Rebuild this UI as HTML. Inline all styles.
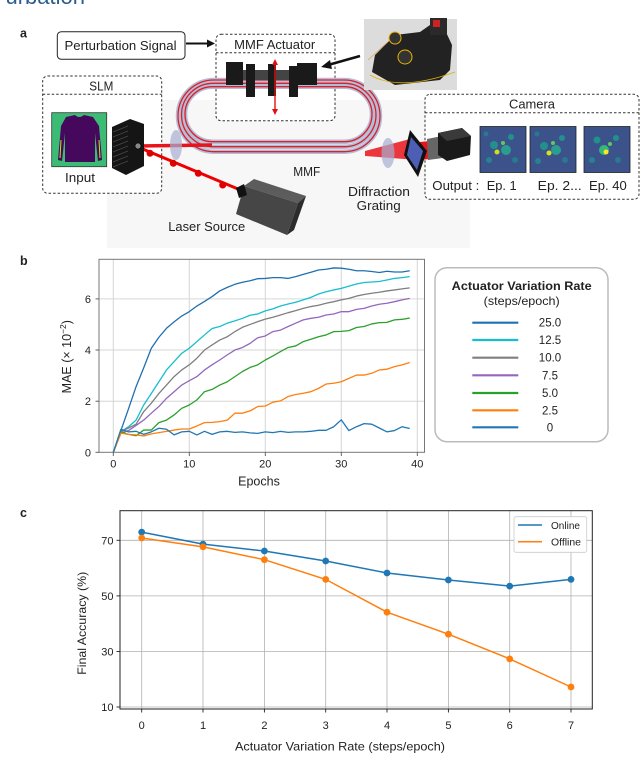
<!DOCTYPE html>
<html><head><meta charset="utf-8"><style>
html,body{margin:0;padding:0;background:#fff;}
svg{display:block;}
text{font-family:"Liberation Sans","DejaVu Sans",sans-serif;fill:#222;}
</style></head><body>
<svg width="640" height="758" viewBox="0 0 640 758" xmlns="http://www.w3.org/2000/svg">
<rect width="640" height="758" fill="#fff"/>

<!-- ============ PANEL A ============ -->
<text x="85" y="4" font-size="22" text-anchor="end" style="fill:#2b5d8f">urbation</text>
<text x="20" y="37.5" font-size="12.5" font-weight="bold">a</text>

<rect x="107" y="100" width="363" height="148" fill="#f7f7f7"/>

<!-- Perturbation signal box -->
<rect x="57.3" y="31.7" width="127.7" height="27.6" rx="4" fill="#fff" stroke="#222" stroke-width="1"/>
<text x="120.5" y="50" font-size="13" text-anchor="middle" textLength="112" lengthAdjust="spacingAndGlyphs">Perturbation Signal</text>
<line x1="186" y1="43.5" x2="208" y2="43.5" stroke="#111" stroke-width="2"/>
<polygon points="215,43.5 207,39.5 207,47.5" fill="#111"/>

<!-- SLM box -->
<rect x="42.7" y="76" width="119" height="117.3" rx="5" fill="#fff" stroke="#333" stroke-width="1" stroke-dasharray="2.5,2"/>
<line x1="42.7" y1="94.3" x2="161.7" y2="94.3" stroke="#333" stroke-width="1" stroke-dasharray="2.5,2"/>
<text x="101.3" y="90.5" font-size="13" text-anchor="middle" textLength="24" lengthAdjust="spacingAndGlyphs">SLM</text>

<!-- input image -->
<rect x="51.7" y="112.7" width="55" height="54" fill="#3cbb75" stroke="#333" stroke-width="0.8"/>
<path d="M66 117 L75 115 Q79 119 84 115 L93 117 L99 126 L102 160 L98 161 L95 133 L95 162 L65 162 L65 133 L62 161 L58 160 L61 126 Z" fill="#46085c"/>
<line x1="61" y1="140" x2="60" y2="158" stroke="#c8e020" stroke-width="1"/>
<line x1="99" y1="140" x2="100" y2="158" stroke="#c8e020" stroke-width="1"/>
<text x="80" y="182" font-size="13" text-anchor="middle" textLength="30" lengthAdjust="spacingAndGlyphs">Input</text>

<!-- MMF Actuator box -->
<rect x="216" y="34.3" width="119" height="86.4" rx="5" fill="#fff" stroke="#333" stroke-width="1" stroke-dasharray="2.5,2"/>
<line x1="216" y1="52.7" x2="335" y2="52.7" stroke="#333" stroke-width="1" stroke-dasharray="2.5,2"/>
<text x="274.7" y="48.8" font-size="13" text-anchor="middle" textLength="81" lengthAdjust="spacingAndGlyphs">MMF Actuator</text>

<!-- Camera box -->
<rect x="425" y="94.3" width="214" height="105" rx="5" fill="#fff" stroke="#333" stroke-width="1" stroke-dasharray="2.5,2"/>
<line x1="425" y1="112.7" x2="639" y2="112.7" stroke="#333" stroke-width="1" stroke-dasharray="2.5,2"/>
<text x="532" y="108.5" font-size="13" text-anchor="middle" textLength="46" lengthAdjust="spacingAndGlyphs">Camera</text>

<!-- fibre loops -->
<g fill="none">
<path d="M213.85 80 H344.15 A35.85 35.85 0 0 1 344.15 151.7 H213.85 A35.85 35.85 0 0 1 213.85 80 Z" stroke="#b4bcd8" stroke-width="4.5"/>
<path d="M213.2 83.3 H344.3 A31.7 31.7 0 0 1 344.3 146.7 H213.2 A31.7 31.7 0 0 1 213.2 83.3 Z" stroke="#b4bcd8" stroke-width="4.5"/>
<path d="M212.5 86.7 H344.5 A27.5 27.5 0 0 1 344.5 141.7 H212.5 A27.5 27.5 0 0 1 212.5 86.7 Z" stroke="#b4bcd8" stroke-width="4.5"/>
<path d="M213.85 80 H344.15 A35.85 35.85 0 0 1 344.15 151.7 H213.85 A35.85 35.85 0 0 1 213.85 80 Z" stroke="#d9212a" stroke-width="1.3"/>
<path d="M213.2 83.3 H344.3 A31.7 31.7 0 0 1 344.3 146.7 H213.2 A31.7 31.7 0 0 1 213.2 83.3 Z" stroke="#d9212a" stroke-width="1.3"/>
<path d="M212.5 86.7 H344.5 A27.5 27.5 0 0 1 344.5 141.7 H212.5 A27.5 27.5 0 0 1 212.5 86.7 Z" stroke="#d9212a" stroke-width="1.3"/>
</g>

<!-- actuator -->
<rect x="235" y="70" width="70" height="10" fill="#444"/>
<rect x="226" y="62" width="17" height="23" fill="#1a1a1a"/>
<rect x="246" y="64" width="9" height="33" fill="#1a1a1a"/>
<rect x="268" y="64" width="8" height="32" fill="#1a1a1a"/>
<rect x="289" y="66" width="9" height="31" fill="#1a1a1a"/>
<rect x="297" y="63" width="20" height="22" fill="#1a1a1a"/>
<line x1="275" y1="64" x2="275" y2="110" stroke="#e01010" stroke-width="1.4"/>
<polygon points="275,59 272,65 278,65" fill="#e01010"/>
<polygon points="275,115 272,109 278,109" fill="#e01010"/>

<!-- photo -->
<rect x="364" y="19" width="93" height="71" fill="#dcdcdc"/>
<polygon points="375,55 395,35 420,32 430,25 445,30 452,45 450,70 440,80 395,85 372,72" fill="#222"/>
<rect x="430" y="18" width="17" height="17" fill="#2a2a2a"/>
<rect x="433" y="20" width="7" height="7" fill="#c22"/>
<circle cx="395" cy="38" r="6" fill="#333" stroke="#e8b400" stroke-width="1"/>
<circle cx="405" cy="57" r="7" fill="#333" stroke="#e8b400" stroke-width="1"/>
<path d="M370 75 Q400 92 455 72" fill="none" stroke="#e0b000" stroke-width="0.8"/>
<line x1="368" y1="60" x2="390" y2="40" stroke="#e89a40" stroke-width="0.6"/>
<line x1="360" y1="56" x2="328" y2="65" stroke="#111" stroke-width="2.5"/>
<polygon points="321,67 330,60 332,69" fill="#111"/>

<!-- beams -->
<line x1="138" y1="146" x2="212" y2="145" stroke="#e8141c" stroke-width="3.5"/>
<line x1="138" y1="147" x2="238" y2="189" stroke="#e00" stroke-width="3"/>
<circle cx="150" cy="153.3" r="3.5" fill="#d00"/>
<circle cx="173.3" cy="163.3" r="3.5" fill="#d00"/>
<circle cx="198.3" cy="173.3" r="3.5" fill="#d00"/>
<circle cx="222.7" cy="185" r="3.5" fill="#d00"/>
<polygon points="365,151 410,139 418,160 365,156" fill="#e8141c" opacity="0.85"/>
<polygon points="420,142 440,140 440,158 420,160" fill="#e8141c"/>

<!-- lenses -->
<ellipse cx="176" cy="145" rx="6" ry="15" fill="#a6add0" opacity="0.7"/>
<ellipse cx="388" cy="153" rx="6.5" ry="15" fill="#a6add0" opacity="0.7"/>

<!-- SLM cube -->
<polygon points="112,127 130,119 144,124 144,166 126,175 112,168" fill="#151515"/>
<g stroke="#4a4a4a" stroke-width="0.7">
<line x1="113" y1="132" x2="128" y2="126"/><line x1="113" y1="137" x2="128" y2="131"/>
<line x1="113" y1="142" x2="128" y2="136"/><line x1="113" y1="147" x2="128" y2="141"/>
<line x1="113" y1="152" x2="128" y2="146"/><line x1="113" y1="157" x2="128" y2="151"/>
<line x1="113" y1="162" x2="128" y2="156"/><line x1="113" y1="167" x2="128" y2="161"/>
</g>
<circle cx="138" cy="146" r="3" fill="#888" stroke="#000" stroke-width="0.6"/>

<!-- laser -->
<polygon points="244,186 254,179 306,196 298,203" fill="#5c5c5c"/>
<polygon points="244,186 298,203 287,235 236,214" fill="#464646"/>
<polygon points="298,203 306,196 294,230 287,235" fill="#2c2c2c"/>
<polygon points="236,188 244,184 247,195 239,198" fill="#111"/>
<text x="206.7" y="231" font-size="13" text-anchor="middle" textLength="77" lengthAdjust="spacingAndGlyphs">Laser Source</text>
<text x="306.7" y="176" font-size="13" text-anchor="middle" textLength="27" lengthAdjust="spacingAndGlyphs">MMF</text>

<!-- grating -->
<polygon points="410,130 427,151 418,177 404,155" fill="#111"/>
<polygon points="411,137 423,151 417,170 407,155" fill="#4d5fb5"/>
<text x="379" y="196" font-size="13" text-anchor="middle" textLength="62" lengthAdjust="spacingAndGlyphs">Diffraction</text>
<text x="378.7" y="210" font-size="13" text-anchor="middle" textLength="44" lengthAdjust="spacingAndGlyphs">Grating</text>

<!-- camera -->
<polygon points="427,139 442,136 443,158 428,160" fill="#666"/>
<polygon points="438,133 462,128 471,136 470,155 447,161 438,155" fill="#1a1a1a"/>
<polygon points="438,133 462,128 471,136 447,141" fill="#3a3a3a"/>

<!-- outputs -->
<g>
<rect x="480" y="126.5" width="46" height="46" fill="#3b528b" stroke="#222" stroke-width="0.8"/>
<circle cx="494" cy="145" r="4" fill="#21918c"/><circle cx="506" cy="150" r="5" fill="#2a9d8f"/>
<circle cx="497" cy="152" r="2.5" fill="#c8e020"/><circle cx="511" cy="137" r="3" fill="#21918c"/>
<circle cx="489" cy="160" r="3" fill="#26828e"/><circle cx="515" cy="160" r="3" fill="#2a788e"/>
<circle cx="503" cy="143" r="2" fill="#5ec962"/><circle cx="486" cy="134" r="2.5" fill="#2a788e"/>
</g>
<g>
<rect x="530" y="126.5" width="46" height="46" fill="#3b528b" stroke="#222" stroke-width="0.8"/>
<circle cx="544" cy="146" r="4" fill="#21918c"/><circle cx="556" cy="150" r="5" fill="#2a9d8f"/>
<circle cx="549" cy="153" r="2.5" fill="#d8e219"/><circle cx="562" cy="138" r="3" fill="#21918c"/>
<circle cx="538" cy="161" r="3" fill="#26828e"/><circle cx="565" cy="160" r="3" fill="#2a788e"/>
<circle cx="553" cy="143" r="2" fill="#5ec962"/><circle cx="537" cy="134" r="2.5" fill="#2a788e"/>
</g>
<g>
<rect x="584" y="126.5" width="46" height="46" fill="#3b528b" stroke="#222" stroke-width="0.8"/>
<circle cx="604" cy="150" r="5" fill="#35b779"/><circle cx="606" cy="152" r="2.5" fill="#fde725"/>
<circle cx="597" cy="140" r="3.5" fill="#21918c"/><circle cx="616" cy="138" r="3" fill="#21918c"/>
<circle cx="592" cy="160" r="3" fill="#26828e"/><circle cx="618" cy="160" r="3" fill="#2a788e"/>
<circle cx="610" cy="144" r="2" fill="#5ec962"/>
</g>
<text x="432.3" y="190" font-size="13" textLength="47" lengthAdjust="spacingAndGlyphs">Output :</text>
<text x="486.7" y="190" font-size="13" textLength="30" lengthAdjust="spacingAndGlyphs">Ep. 1</text>
<text x="537.7" y="190" font-size="13" textLength="44" lengthAdjust="spacingAndGlyphs">Ep. 2...</text>
<text x="589" y="190" font-size="13" textLength="37.7" lengthAdjust="spacingAndGlyphs">Ep. 40</text>

<!-- ============ PANEL B ============ -->
<text x="20" y="265" font-size="12.5" font-weight="bold">b</text>
<g stroke="#d6d6d6" stroke-width="1">
<line x1="113.3" y1="259.3" x2="113.3" y2="452.3"/>
<line x1="189.3" y1="259.3" x2="189.3" y2="452.3"/>
<line x1="265.3" y1="259.3" x2="265.3" y2="452.3"/>
<line x1="341.3" y1="259.3" x2="341.3" y2="452.3"/>
<line x1="417.3" y1="259.3" x2="417.3" y2="452.3"/>
<line x1="99" y1="401.2" x2="424.5" y2="401.2"/>
<line x1="99" y1="350" x2="424.5" y2="350"/>
<line x1="99" y1="298.9" x2="424.5" y2="298.9"/>
</g>
<g transform="translate(113.3,452.3) scale(7.6,-25.57)" fill="none" stroke-width="1.3" stroke-linejoin="round">
<polyline vector-effect="non-scaling-stroke" stroke="#1f70b0" points="0,0 1,0.85 2,1.7 3,2.57 4,3.3 5,4.07 6,4.5 7,4.85 8,5.1 9,5.33 10,5.5 11,5.72 12,5.9 13,6.09 14,6.31 15,6.45 16,6.57 17,6.65 18,6.71 19,6.79 20,6.8 21,6.83 22,6.83 23,6.8 24,6.87 25,6.96 26,7.04 27,7.13 28,7.16 29,7.21 30,7.2 31,7.16 32,7.1 33,7.1 34,7.07 35,7.03 36,7.08 37,7.05 38,7.05 39,7.1"/>
<polyline vector-effect="non-scaling-stroke" stroke="#17becf" points="0,0 1,0.8 2,1.0 3,1.26 4,1.85 5,2.3 6,2.76 7,3.22 8,3.55 9,3.87 10,4.07 11,4.33 12,4.59 13,4.84 14,4.92 15,5.05 16,5.14 17,5.24 18,5.36 19,5.41 20,5.53 21,5.61 22,5.72 23,5.8 24,5.87 25,5.96 26,6.06 27,6.19 28,6.28 29,6.35 30,6.41 31,6.5 32,6.58 33,6.64 34,6.66 35,6.68 36,6.74 37,6.8 38,6.83 39,6.87"/>
<polyline vector-effect="non-scaling-stroke" stroke="#7f7f7f" points="0,0 1,0.8 2,0.95 3,1.1 4,1.59 5,1.92 6,2.3 7,2.63 8,2.96 9,3.22 10,3.42 11,3.68 12,4.0 13,4.2 14,4.39 15,4.52 16,4.72 17,4.89 18,5.0 19,5.11 20,5.21 21,5.28 22,5.37 23,5.46 24,5.54 25,5.63 26,5.7 27,5.75 28,5.83 29,5.89 30,5.96 31,6.02 32,6.11 33,6.17 34,6.22 35,6.26 36,6.31 37,6.35 38,6.39 39,6.43"/>
<polyline vector-effect="non-scaling-stroke" stroke="#9467bd" points="0,0 1,0.75 2,0.85 3,1.05 4,1.26 5,1.53 6,1.79 7,2.11 8,2.37 9,2.63 10,2.8 11,2.96 12,3.22 13,3.42 14,3.61 15,3.81 16,4.0 17,4.1 18,4.26 19,4.48 20,4.55 21,4.72 22,4.78 23,4.92 24,5.05 25,5.18 26,5.24 27,5.28 28,5.37 29,5.41 30,5.5 31,5.5 32,5.59 33,5.63 34,5.72 35,5.79 36,5.83 37,5.89 38,5.96 39,6.02"/>
<polyline vector-effect="non-scaling-stroke" stroke="#2ca02c" points="0,0 1,0.8 2,0.7 3,0.65 4,0.87 5,0.87 6,1.16 7,1.26 8,1.46 9,1.72 10,1.85 11,2.05 12,2.37 13,2.46 14,2.63 15,2.76 16,2.96 17,3.16 18,3.32 19,3.42 20,3.61 21,3.77 22,3.94 23,4.1 24,4.16 25,4.33 26,4.42 27,4.52 28,4.59 29,4.72 30,4.73 31,4.76 32,4.88 33,4.92 34,5.02 35,5.07 36,5.08 37,5.18 38,5.2 39,5.25"/>
<polyline vector-effect="non-scaling-stroke" stroke="#ff7f0e" points="0,0 1,0.75 2,0.7 3,0.68 4,0.64 5,0.72 6,0.77 7,0.82 8,0.87 9,0.91 10,0.91 11,1.03 12,1.16 13,1.17 14,1.2 15,1.26 16,1.53 17,1.53 18,1.62 19,1.79 20,1.81 21,1.96 22,2.01 23,2.18 24,2.26 25,2.31 26,2.37 27,2.5 28,2.67 29,2.7 30,2.76 31,2.89 32,3.02 33,3.02 34,3.09 35,3.22 36,3.25 37,3.35 38,3.42 39,3.51"/>
<polyline vector-effect="non-scaling-stroke" stroke="#1f77b4" points="0,0 1,0.9 2,0.8 3,0.82 4,0.7 5,0.8 6,0.94 7,0.9 8,0.68 9,0.8 10,0.82 11,0.68 12,0.82 13,0.7 14,0.8 15,0.82 16,0.78 17,0.8 18,0.76 19,0.74 20,0.8 21,0.77 22,0.82 23,0.78 24,0.8 25,0.8 26,0.82 27,0.86 28,0.86 29,1.0 30,1.27 31,0.85 32,1.0 33,1.12 34,1.1 35,0.95 36,0.8 37,0.85 38,1.0 39,0.93"/>
</g>
<rect x="99" y="259.3" width="325.5" height="193" fill="none" stroke="#777" stroke-width="1"/>
<g stroke="#555" stroke-width="0.9">
<line x1="95.5" y1="452.3" x2="99" y2="452.3"/><line x1="95.5" y1="401.2" x2="99" y2="401.2"/>
<line x1="95.5" y1="350" x2="99" y2="350"/><line x1="95.5" y1="298.9" x2="99" y2="298.9"/>
<line x1="113.3" y1="452.3" x2="113.3" y2="456"/><line x1="189.3" y1="452.3" x2="189.3" y2="456"/>
<line x1="265.3" y1="452.3" x2="265.3" y2="456"/><line x1="341.3" y1="452.3" x2="341.3" y2="456"/>
<line x1="417.3" y1="452.3" x2="417.3" y2="456"/>
</g>
<g font-size="11" text-anchor="end">
<text x="91" y="456.3">0</text><text x="91" y="405.2">2</text>
<text x="91" y="354">4</text><text x="91" y="302.9">6</text>
</g>
<g font-size="11" text-anchor="middle">
<text x="113.3" y="467.5">0</text><text x="189.3" y="467.5">10</text>
<text x="265.3" y="467.5">20</text><text x="341.3" y="467.5">30</text>
<text x="417.3" y="467.5">40</text>
</g>
<text x="259" y="485.5" font-size="12.5" text-anchor="middle">Epochs</text>
<text transform="translate(71,356.7) rotate(-90)" font-size="12.5" text-anchor="middle">MAE (× 10<tspan font-size="8.5" dy="-5">−2</tspan><tspan dy="5">)</tspan></text>

<!-- legend b -->
<rect x="435" y="267.7" width="173" height="174" rx="12" fill="#fff" stroke="#bbb" stroke-width="1.5"/>
<text x="521.7" y="290" font-size="12" font-weight="bold" text-anchor="middle" textLength="140" lengthAdjust="spacingAndGlyphs">Actuator Variation Rate</text>
<text x="521.7" y="305" font-size="12" text-anchor="middle" textLength="76" lengthAdjust="spacingAndGlyphs">(steps/epoch)</text>
<g stroke-width="2.2">
<line x1="472.3" y1="322.7" x2="518.3" y2="322.7" stroke="#1f70b0"/>
<line x1="472.3" y1="340" x2="518.3" y2="340" stroke="#17becf"/>
<line x1="472.3" y1="357.7" x2="518.3" y2="357.7" stroke="#7f7f7f"/>
<line x1="472.3" y1="375.3" x2="518.3" y2="375.3" stroke="#9467bd"/>
<line x1="472.3" y1="393" x2="518.3" y2="393" stroke="#2ca02c"/>
<line x1="472.3" y1="410.3" x2="518.3" y2="410.3" stroke="#ff7f0e"/>
<line x1="472.3" y1="427.3" x2="518.3" y2="427.3" stroke="#1f77b4"/>
</g>
<g font-size="11.5" text-anchor="middle">
<text x="550" y="326.7">25.0</text><text x="550" y="344">12.5</text>
<text x="550" y="361.7">10.0</text><text x="550" y="379.3">7.5</text>
<text x="550" y="397">5.0</text><text x="550" y="414.3">2.5</text>
<text x="550" y="431.3">0</text>
</g>

<!-- ============ PANEL C ============ -->
<text x="20" y="517" font-size="12.5" font-weight="bold">c</text>
<g stroke="#b0b0b0" stroke-width="0.8">
<line x1="141.7" y1="510.7" x2="141.7" y2="709"/><line x1="203" y1="510.7" x2="203" y2="709"/>
<line x1="264.4" y1="510.7" x2="264.4" y2="709"/><line x1="325.7" y1="510.7" x2="325.7" y2="709"/>
<line x1="387" y1="510.7" x2="387" y2="709"/><line x1="448.4" y1="510.7" x2="448.4" y2="709"/>
<line x1="509.7" y1="510.7" x2="509.7" y2="709"/><line x1="571" y1="510.7" x2="571" y2="709"/>
<line x1="120" y1="540.3" x2="592.3" y2="540.3"/><line x1="120" y1="595.9" x2="592.3" y2="595.9"/>
<line x1="120" y1="651.5" x2="592.3" y2="651.5"/><line x1="120" y1="707" x2="592.3" y2="707"/>
</g>
<rect x="120" y="510.7" width="472.3" height="198.3" fill="none" stroke="#222" stroke-width="1"/>
<g stroke="#222" stroke-width="0.9">
<line x1="116.5" y1="540.3" x2="120" y2="540.3"/><line x1="116.5" y1="595.9" x2="120" y2="595.9"/>
<line x1="116.5" y1="651.5" x2="120" y2="651.5"/><line x1="116.5" y1="707" x2="120" y2="707"/>
<line x1="141.7" y1="709" x2="141.7" y2="712.5"/><line x1="203" y1="709" x2="203" y2="712.5"/>
<line x1="264.4" y1="709" x2="264.4" y2="712.5"/><line x1="325.7" y1="709" x2="325.7" y2="712.5"/>
<line x1="387" y1="709" x2="387" y2="712.5"/><line x1="448.4" y1="709" x2="448.4" y2="712.5"/>
<line x1="509.7" y1="709" x2="509.7" y2="712.5"/><line x1="571" y1="709" x2="571" y2="712.5"/>
</g>
<polyline fill="none" stroke="#1f77b4" stroke-width="1.5" points="141.7,532.1 203,544.1 264.4,551 325.7,561 387,573 448.4,580 509.7,586.1 571,579.4"/>
<g fill="#1f77b4">
<circle cx="141.7" cy="532.1" r="3.4"/><circle cx="203" cy="544.1" r="3.4"/><circle cx="264.4" cy="551" r="3.4"/>
<circle cx="325.7" cy="561" r="3.4"/><circle cx="387" cy="573" r="3.4"/><circle cx="448.4" cy="580" r="3.4"/>
<circle cx="509.7" cy="586.1" r="3.4"/><circle cx="571" cy="579.4" r="3.4"/>
</g>
<polyline fill="none" stroke="#ff7f0e" stroke-width="1.5" points="141.7,538 203,546.9 264.4,559.7 325.7,579.4 387,612.2 448.4,634.2 509.7,658.9 571,687"/>
<g fill="#ff7f0e">
<circle cx="141.7" cy="538" r="3.4"/><circle cx="203" cy="546.9" r="3.4"/><circle cx="264.4" cy="559.7" r="3.4"/>
<circle cx="325.7" cy="579.4" r="3.4"/><circle cx="387" cy="612.2" r="3.4"/><circle cx="448.4" cy="634.2" r="3.4"/>
<circle cx="509.7" cy="658.9" r="3.4"/><circle cx="571" cy="687" r="3.4"/>
</g>
<g font-size="11" text-anchor="end">
<text x="113.5" y="544.3">70</text><text x="113.5" y="599.9">50</text>
<text x="113.5" y="655.5">30</text><text x="113.5" y="711">10</text>
</g>
<g font-size="11" text-anchor="middle">
<text x="141.7" y="729">0</text><text x="203" y="729">1</text><text x="264.4" y="729">2</text>
<text x="325.7" y="729">3</text><text x="387" y="729">4</text><text x="448.4" y="729">5</text>
<text x="509.7" y="729">6</text><text x="571" y="729">7</text>
</g>
<text x="340" y="750.5" font-size="12" text-anchor="middle" textLength="210" lengthAdjust="spacingAndGlyphs">Actuator Variation Rate (steps/epoch)</text>
<text transform="translate(86,623.3) rotate(-90)" font-size="12" text-anchor="middle" textLength="103" lengthAdjust="spacingAndGlyphs">Final Accuracy (%)</text>

<!-- legend c -->
<rect x="514" y="516.7" width="72.7" height="35.6" rx="2" fill="#fff" fill-opacity="0.9" stroke="#ccc" stroke-width="0.8"/>
<line x1="518" y1="525" x2="542" y2="525" stroke="#1f77b4" stroke-width="1.5"/>
<line x1="518" y1="541.7" x2="542" y2="541.7" stroke="#ff7f0e" stroke-width="1.5"/>
<text x="551" y="529" font-size="10.5" textLength="29" lengthAdjust="spacingAndGlyphs">Online</text>
<text x="551" y="545.7" font-size="10.5" textLength="30" lengthAdjust="spacingAndGlyphs">Offline</text>
</svg>
</body></html>
